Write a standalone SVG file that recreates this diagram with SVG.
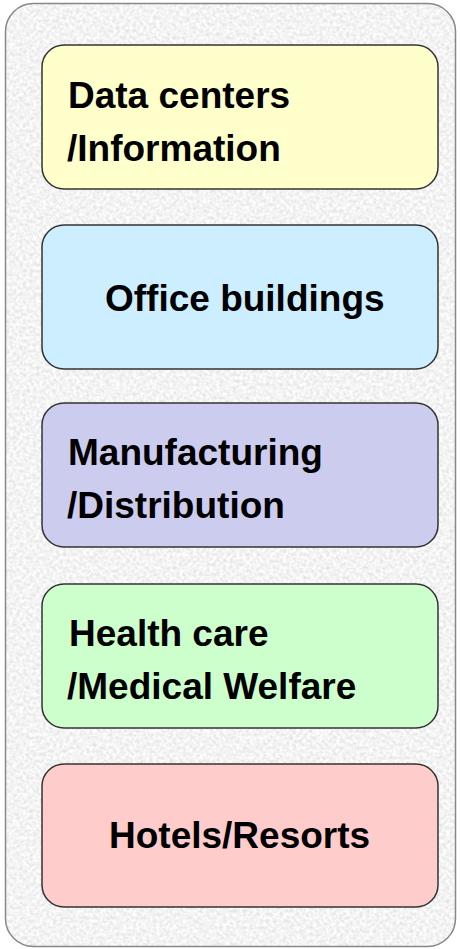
<svg xmlns="http://www.w3.org/2000/svg" width="460" height="949" viewBox="0 0 460 949">
<defs>
<filter id="tex" x="0" y="0" width="100%" height="100%">
<feTurbulence type="fractalNoise" baseFrequency="0.3" numOctaves="3" seed="7" result="n"/>
<feColorMatrix in="n" type="matrix" values="0.4 0 0 0 0.7  0.4 0 0 0 0.7  0.4 0 0 0 0.7  0 0 0 0 1" result="g"/>
<feComposite in="g" in2="SourceGraphic" operator="in"/>
</filter>
<style>
.box{stroke:#333;stroke-width:1.5}
.lbl{font-family:"Liberation Sans",Arial,sans-serif;font-weight:bold;font-size:37px;fill:#000}
</style>
</defs>
<g id="frame">
<rect x="5.5" y="3.5" width="450" height="943" rx="28" fill="#eee" filter="url(#tex)"/>
<rect x="5.5" y="3.5" width="450" height="943" rx="28" fill="none" stroke="#888" stroke-width="1.5"/>
</g>
<g id="connectors"/>
<g id="n1">
<rect class="box" x="42" y="45" width="396" height="144" rx="22" fill="#ffffcc"/>
<text class="lbl" x="68" y="108">Data centers</text>
<text class="lbl" x="67" y="161">/Information</text>
</g>
<g id="n2">
<rect class="box" x="42" y="225" width="396" height="144" rx="22" fill="#cceeff"/>
<text class="lbl" x="105" y="311">Office buildings</text>
</g>
<g id="n3">
<rect class="box" x="42" y="403" width="396" height="144" rx="22" fill="#ccccee"/>
<text class="lbl" x="68" y="465">Manufacturing</text>
<text class="lbl" x="67" y="518">/Distribution</text>
</g>
<g id="n4">
<rect class="box" x="42" y="584" width="396" height="144" rx="22" fill="#ccffcc"/>
<text class="lbl" x="69" y="646">Health care</text>
<text class="lbl" x="67" y="699">/Medical Welfare</text>
</g>
<g id="n5">
<rect class="box" x="42" y="764" width="396" height="143" rx="22" fill="#ffcccc"/>
<text class="lbl" x="109" y="848">Hotels/Resorts</text>
</g>
</svg>
